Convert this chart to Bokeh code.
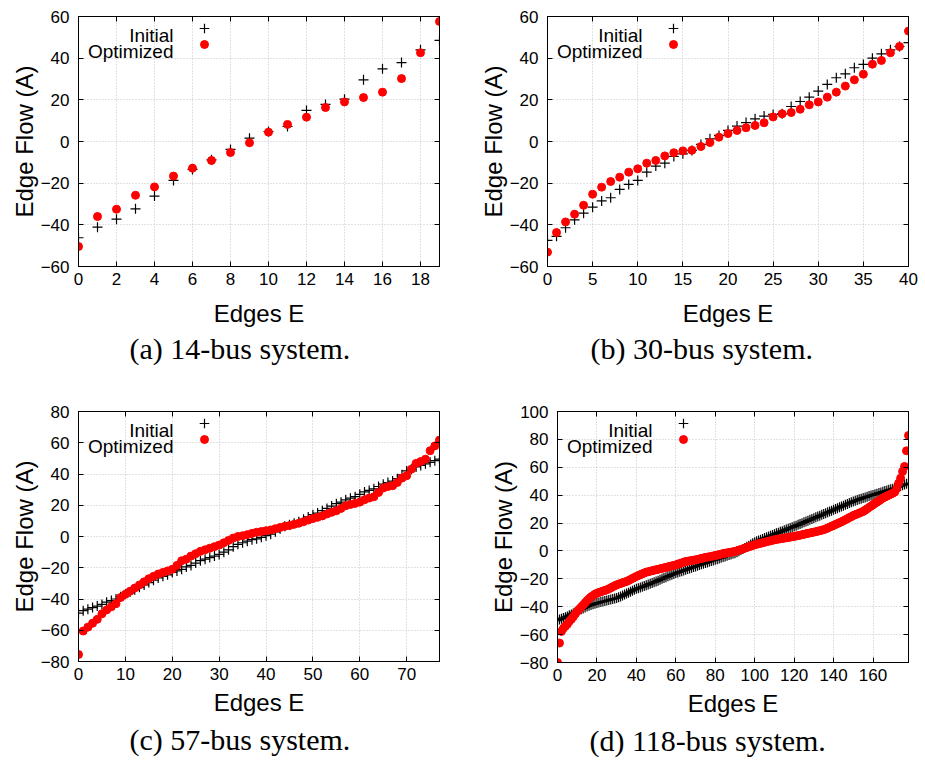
from bokeh.plotting import figure
from bokeh.models import Range1d, FixedTicker, LinearAxis, Label, Legend, LegendItem, Title
from bokeh.layouts import row, column
from bokeh.core.properties import value
from bokeh.embed import file_html
from bokeh.resources import INLINE

# ---------------- data ----------------
init14 = [-46.2, -41.1, -37.3, -32.3, -26.2, -18.7, -13.4, -8.8, -3.8, 1.6,
          4.8, 7.2, 14.9, 17.8, 20.3, 29.6, 34.9, 37.9, 44.0, 48.5]
opt14 = [-50.4, -36.0, -32.5, -25.8, -21.8, -16.6, -12.8, -9.1, -5.3, -0.6,
         4.5, 8.2, 11.7, 16.3, 19.0, 21.1, 23.7, 30.2, 42.6, 57.6]

init30 = [-47.5, -45.5, -41.4, -37.6, -34.4, -31.5, -28.5, -27.0, -23.0, -20.6,
          -18.7, -14.7, -11.8, -10.4, -7.2, -5.9, -4.3, -1.4, 1.3, 2.9,
          5.3, 7.4, 9.1, 10.9, 12.2, 13.0, 13.3, 16.8, 19.2, 21.3,
          24.2, 27.4, 30.6, 32.5, 35.4, 37.0, 40.0, 42.1, 44.0, 45.6, 47.5]
opt30 = [-53.1, -43.7, -38.6, -34.9, -30.6, -25.3, -21.9, -19.2, -17.1, -14.7,
         -13.1, -10.4, -9.1, -6.9, -5.4, -4.5, -4.2, -2.4, -0.5, 2.1,
         3.8, 5.3, 6.6, 7.7, 9.0, 11.8, 13.3, 13.9, 15.5, 17.6,
         19.0, 21.3, 23.7, 26.6, 29.6, 32.3, 37.1, 38.9, 42.6, 45.6, 53.0]

init57 = [-49, -47.5, -46.5, -45.5, -44.5, -43.5, -42, -41, -40, -38.5,
          -37, -35.5, -34, -32.5, -31, -29.5, -28, -26.5, -25.5, -24.5,
          -23, -22, -21, -19.5, -18.5, -17, -15.5, -14.5, -13.5, -12.5,
          -11.5, -10, -8.5, -6.5, -5, -4, -3, -2, -1.5, -0.5,
          0.5, 1.5, 3, 5, 6.5, 7.5, 8.5, 9.5, 11, 12.5,
          14, 15, 16.5, 18, 19.5, 21, 22, 23.5, 24.5, 25.5,
          27, 28.5, 29.5, 30.5, 32, 33.5, 34.5, 35.5, 37, 39.5,
          42, 43, 44.5, 45.5, 46.5, 47.5, 48.5, 49.5]
opt57 = [-75.5, -60.5, -58, -55.5, -53, -49.5, -47, -45, -43, -39,
         -37, -35, -33, -31, -29, -27, -25.5, -24, -23, -22,
         -21, -18.5, -15.5, -14.5, -12.5, -11, -9.5, -8.5, -7.5, -6.5,
         -5.5, -4, -2.5, -1, 0, 0.5, 1.2, 2, 2.7, 3.2,
         3.7, 4.2, 5, 5.8, 6.5, 7, 7.8, 8.5, 9.5, 10.5,
         11.5, 12.3, 13.2, 14.4, 15.5, 16.5, 18, 19.7, 20.5, 21.2,
         22, 23.5, 24.6, 25.4, 28.2, 31, 32, 32.5, 34.6, 37.4,
         38.9, 43.1, 46.8, 48, 49.5, 54.9, 58, 61.7]

init118 = [-50.0, -49.2, -48.6, -48.1, -47.5, -47.0, -46.2, -45.5, -44.8, -44.1,
           -43.4, -42.6, -41.9, -41.2, -40.5, -39.8, -39.3, -38.8, -38.3, -37.9,
           -37.4, -37.0, -36.6, -36.3, -35.9, -35.6, -35.2, -34.8, -34.5, -34.1,
           -33.8, -33.2, -32.6, -32.0, -31.3, -30.6, -29.9, -29.2, -28.5, -27.8,
           -27.2, -26.7, -26.2, -25.7, -25.2, -24.6, -24.1, -23.5, -23.0, -22.4,
           -21.9, -21.3, -20.6, -20.0, -19.4, -18.8, -18.2, -17.6, -17.0, -16.5,
           -15.9, -15.4, -14.9, -14.5, -14.0, -13.5, -13.0, -12.5, -12.0, -11.6,
           -11.1, -10.6, -10.1, -9.6, -9.1, -8.7, -8.2, -7.7, -7.2, -6.8,
           -6.4, -5.9, -5.4, -4.9, -4.4, -3.9, -3.4, -2.9, -2.5, -2.0,
           -1.6, -0.9, -0.2, 0.6, 1.4, 2.2, 3.0, 3.8, 4.7, 5.5,
           6.3, 6.9, 7.5, 8.0, 8.6, 9.2, 9.8, 10.3, 10.9, 11.5,
           12.0, 12.6, 13.1, 13.7, 14.2, 14.8, 15.4, 15.9, 16.5, 17.0,
           17.5, 18.1, 18.7, 19.3, 19.9, 20.5, 21.1, 21.7, 22.3, 22.9,
           23.5, 24.1, 24.7, 25.3, 25.9, 26.5, 27.1, 27.7, 28.3, 28.9,
           29.5, 30.1, 30.7, 31.3, 31.9, 32.5, 33.1, 33.7, 34.3, 34.9,
           35.5, 36.0, 36.5, 37.0, 37.5, 38.0, 38.4, 38.9, 39.4, 39.8,
           40.2, 40.7, 41.1, 41.6, 42.0, 42.5, 42.9, 43.3, 43.8, 44.2,
           44.6, 45.1, 45.6, 46.1, 46.6, 47.1, 47.6, 48.1, 48.6]
opt118 = [-80.0, -66.0, -57.7, -55.5, -54.0, -52.5, -50.5, -49.0, -47.2, -45.2,
          -43.2, -41.8, -40.3, -38.8, -37.2, -35.6, -34.2, -33.0, -32.0, -31.1,
          -30.3, -29.8, -29.3, -28.8, -28.3, -27.9, -27.2, -26.5, -25.7, -25.0,
          -24.3, -23.8, -23.3, -22.8, -22.3, -21.9, -21.2, -20.5, -19.7, -19.0,
          -18.3, -17.6, -17.0, -16.4, -15.8, -15.2, -14.9, -14.5, -14.2, -13.8,
          -13.5, -13.2, -12.8, -12.5, -12.1, -11.8, -11.4, -11.1, -10.7, -10.4,
          -10.0, -9.5, -9.0, -8.6, -8.1, -7.6, -7.4, -7.1, -6.9, -6.6,
          -6.4, -6.1, -5.7, -5.4, -5.0, -4.7, -4.4, -4.2, -3.9, -3.6,
          -3.3, -3.0, -2.6, -2.3, -1.9, -1.6, -1.4, -1.1, -0.9, -0.6,
          -0.4, 0.1, 0.6, 1.0, 1.5, 2.0, 2.5, 3.0, 3.4, 3.9,
          4.4, 4.8, 5.1, 5.5, 5.8, 6.2, 6.6, 6.9, 7.3, 7.6,
          8.0, 8.2, 8.5, 8.7, 8.9, 9.2, 9.4, 9.7, 9.9, 10.2,
          10.4, 10.7, 11.0, 11.3, 11.6, 11.9, 12.3, 12.6, 12.9, 13.2,
          13.5, 13.8, 14.2, 14.5, 14.9, 15.2, 15.8, 16.4, 17.1, 17.7,
          18.3, 19.0, 19.6, 20.3, 20.9, 21.6, 22.4, 23.1, 23.9, 24.6,
          25.4, 26.0, 26.5, 27.1, 27.7, 28.3, 29.2, 30.2, 31.2, 32.1,
          33.1, 34.1, 35.0, 36.0, 36.9, 37.9, 38.6, 39.3, 40.0, 40.7,
          41.4, 42.2, 44.6, 48.6, 52.2, 57.0, 60.6, 71.8, 82.8]

xticks14 = [0, 2, 4, 6, 8, 10, 12, 14, 16, 18]
xticks30 = [0, 5, 10, 15, 20, 25, 30, 35, 40]
xticks57 = [0, 10, 20, 30, 40, 50, 60, 70]
xticks118 = [0, 20, 40, 60, 80, 100, 120, 140, 160]
yticks60 = [-60, -40, -20, 0, 20, 40, 60]
yticks80 = [-80, -60, -40, -20, 0, 20, 40, 60, 80]
yticks100 = [-80, -60, -40, -20, 0, 20, 40, 60, 80, 100]

captions = ["(a) 14-bus system.", "(b) 30-bus system.",
            "(c) 57-bus system.", "(d) 118-bus system."]
legend_labels = ["Initial", "Optimized"]
ylabel = "Edge Flow (A)"
xlabel = "Edges E"

SANS = "Liberation Sans"
SERIF = "Liberation Serif"


def panel(init, opt, xr, yr, xt, yt, fw, fh, bl, br, bt, bb, cap, cap_off,
          xlab_sd, cap_sd):
    p = figure(frame_width=fw, frame_height=fh,
               min_border_left=bl, min_border_right=br,
               min_border_top=bt, min_border_bottom=bb,
               x_range=Range1d(*xr), y_range=Range1d(*yr),
               output_backend="svg", toolbar_location=None, tools="")
    p.background_fill_color = "white"
    p.border_fill_color = "white"
    p.outline_line_color = "black"
    p.outline_line_width = 1
    for ax, t in ((p.xaxis[0], xt), (p.yaxis[0], yt)):
        ax.ticker = FixedTicker(ticks=t)
        ax.major_tick_in = 5
        ax.major_tick_out = 0
        ax.minor_tick_line_color = None
        ax.axis_line_color = "black"
        ax.major_tick_line_color = "black"
        ax.major_label_text_font = SANS
        ax.major_label_text_font_size = "17px"
        ax.major_label_text_color = "black"
        ax.axis_label_text_font = SANS
        ax.axis_label_text_font_size = "24px"
        ax.axis_label_text_font_style = "normal"
        ax.axis_label_text_color = "black"
    p.xaxis[0].major_label_standoff = 6
    p.yaxis[0].major_label_standoff = 9
    p.xaxis[0].axis_label = xlabel
    p.xaxis[0].axis_label_standoff = xlab_sd
    p.yaxis[0].axis_label = ylabel
    p.yaxis[0].axis_label_standoff = 0
    p.xgrid.ticker = FixedTicker(ticks=xt)
    p.ygrid.ticker = FixedTicker(ticks=yt)
    for g in (p.xgrid[0], p.ygrid[0]):
        g.grid_line_color = "#c4c4c4"
        g.grid_line_dash = "1 2"
        g.grid_line_width = 1
    # mirrored ticks
    for loc, t in (("above", xt), ("right", yt)):
        m = LinearAxis(ticker=FixedTicker(ticks=t))
        m.major_tick_in = 5
        m.major_tick_out = 0
        m.minor_tick_line_color = None
        m.major_label_text_font_size = "1px"
        m.major_label_text_alpha = 0
        m.major_label_standoff = 0
        m.axis_line_color = "black"
        p.add_layout(m, loc)

    r1 = p.scatter(list(range(len(init))), init, marker="cross", size=10,
                   line_color="black", line_width=1.2)
    r2 = p.scatter(list(range(len(opt))), opt, marker="circle", size=8,
                   fill_color="#ff0000", line_color="#ff0000")

    # legend: text on the left (labels), symbols on the right (glyph-only legends)
    for r, gs, dy in ((r1, 24, 12), (r2, 20, 28)):
        leg = Legend(items=[LegendItem(label=value(""), renderers=[r])],
                     location=(126 - gs / 2, fh - dy - gs / 2), padding=0, margin=0,
                     spacing=0, glyph_width=gs, glyph_height=gs, label_height=gs,
                     label_width=0, label_standoff=0,
                     border_line_color=None, background_fill_alpha=0)
        p.add_layout(leg)
    for txt, dy in zip(legend_labels, (19, 34.7)):
        p.add_layout(Label(x=95, y=fh - dy, x_units="screen", y_units="screen",
                           text=txt, text_align="right", text_baseline="alphabetic",
                           text_font=SANS, text_font_size="19px",
                           text_color="black"))
    # caption below the x axis
    t = Title(text=cap, align="left", offset=cap_off, standoff=cap_sd,
              text_font=SERIF, text_font_size="30px", text_font_style="normal",
              text_color="black")
    p.add_layout(t, "below")
    return p


pa = panel(init14, opt14, (0, 19), (-60, 60), xticks14, yticks60,
           361, 250, 78, 31, 16, 114, captions[0], 51, 12, 1)
pb = panel(init30, opt30, (0, 40), (-60, 60), xticks30, yticks60,
           361, 250, 77, 17, 16, 114, captions[1], 43, 12, 1)
pc = panel(init57, opt57, (0, 77), (-80, 80), xticks57, yticks80,
           361, 250, 78, 31, 31, 100, captions[2], 51, 6, 4)
pd = panel(init118, opt118, (0, 178), (-80, 100), xticks118, yticks100,
           351, 251, 87, 17, 30, 100, captions[3], 32, 6, 4)

layout = column(row(pa, pb), row(pc, pd))
open("out.html", "w").write(file_html(layout, INLINE))
